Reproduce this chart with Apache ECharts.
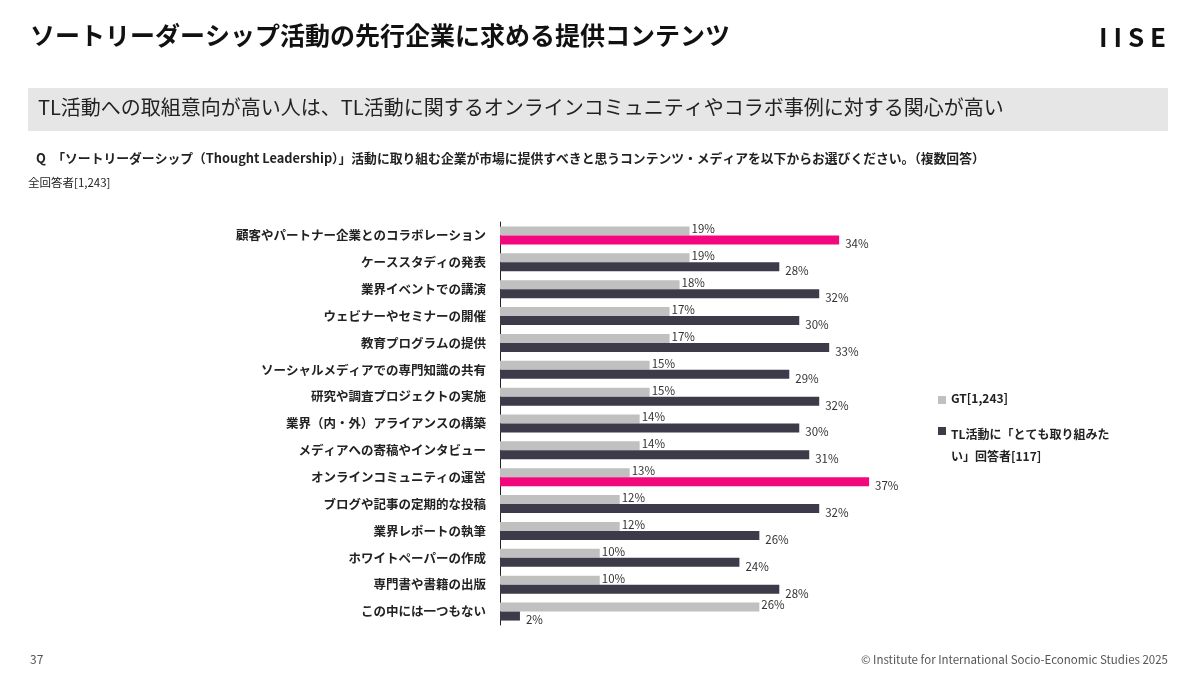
<!DOCTYPE html><html><head><meta charset="utf-8"><script src="https://cdn.jsdelivr.net/npm/echarts@6/dist/echarts.min.js"></script>
<style>body{margin:0}#c{width:1200px;height:675px}</style></head><body><div id="c"></div><script>
const categories=['顧客やパートナー企業とのコラボレーション','ケーススタディの発表','業界イベントでの講演','ウェビナーやセミナーの開催','教育プログラムの提供','ソーシャルメディアでの専門知識の共有','研究や調査プロジェクトの実施','業界（内・外）アライアンスの構築','メディアへの寄稿やインタビュー','オンラインコミュニティの運営','ブログや記事の定期的な投稿','業界レポートの執筆','ホワイトペーパーの作成','専門書や書籍の出版','この中には一つもない'];
const gtValues=[19,19,18,17,17,15,15,14,14,13,12,12,10,10,26];
const tlValues=[34,28,32,30,33,29,32,30,31,37,32,26,24,28,2];
const highlight=[0,9];
const F='"Noto Sans CJK JP","Noto Sans",sans-serif';
const ch=echarts.init(document.getElementById('c'));
ch.setOption({
animation:false,
textStyle:{fontFamily:F},
grid:{left:500,right:296,top:222,bottom:50},
xAxis:{type:'value',min:0,max:40.5,show:false},
yAxis:{type:'category',data:categories,inverse:true,axisTick:{show:false},
 axisLine:{lineStyle:{color:'#222',width:1}},
 axisLabel:{fontWeight:'bold',fontSize:12.5,color:'#222',margin:14,fontFamily:F}},
series:[
{name:'GT[1,243]',type:'bar',data:gtValues,barWidth:9,barGap:'0%',itemStyle:{color:'#c0c0c0'},
 label:{show:true,position:'right',distance:2,offset:[0,-2],formatter:'{c}%',fontSize:11.5,color:'#333'}},
{name:'TL',type:'bar',data:tlValues.map((v,i)=>({value:v,itemStyle:{color:highlight.includes(i)?'#f2077c':'#3d3a4a'}})),barWidth:9,
 label:{show:true,position:'right',distance:6,offset:[0,4],formatter:'{c}%',fontSize:11.5,color:'#333'}}
],
graphic:[
{type:'text',left:30,top:23,style:{text:'ソートリーダーシップ活動の先行企業に求める提供コンテンツ',font:'bold 25px '+F,fill:'#111'}},
{type:'text',right:34,top:24,style:{text:'I I S E',font:'bold 26px '+F,fill:'#111'}},
{type:'rect',shape:{x:28,y:88,width:1140,height:43},style:{fill:'#e6e6e6'}},
{type:'text',left:38,top:97,style:{text:'TL活動への取組意向が高い人は、TL活動に関するオンラインコミュニティやコラボ事例に対する関心が高い',font:'20px '+F,fill:'#222'}},
{type:'text',left:36,top:152,style:{text:'Q　「ソートリーダーシップ（Thought Leadership）」活動に取り組む企業が市場に提供すべきと思うコンテンツ・メディアを以下からお選びください。（複数回答）',font:'bold 12.8px '+F,fill:'#222'}},
{type:'text',left:28,top:177,style:{text:'全回答者[1,243]',font:'11.5px '+F,fill:'#222'}},
{type:'rect',shape:{x:938,y:396,width:8,height:8},style:{fill:'#c0c0c0'}},
{type:'text',left:951,top:392,style:{text:'GT[1,243]',font:'bold 12px '+F,fill:'#222'}},
{type:'rect',shape:{x:938,y:427,width:8,height:8},style:{fill:'#3d3a4a'}},
{type:'text',left:951,top:423,style:{text:'TL活動に「とても取り組みた\nい」回答者[117]',font:'bold 12px '+F,fill:'#222',lineHeight:22}},
{type:'text',left:30,top:653,style:{text:'37',font:'12px '+F,fill:'#555'}},
{type:'text',right:32,top:654,style:{text:'© Institute for International Socio-Economic Studies 2025',font:'11.5px '+F,fill:'#555'}}
]});
</script></body></html>
